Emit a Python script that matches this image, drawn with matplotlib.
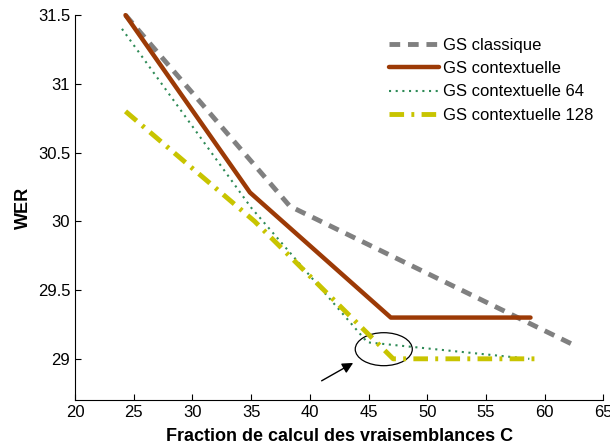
import numpy as np
import matplotlib.pyplot as plt
from matplotlib.patches import Ellipse

plt.rcParams['font.family'] = ['Liberation Sans', 'DejaVu Sans']

# data
x_classique = [24.3, 38.3, 62.5]
y_classique = [31.5, 30.11, 29.1]

x_ctx = [24.3, 34.9, 46.9, 58.8]
y_ctx = [31.5, 30.21, 29.3, 29.3]

x_ctx64 = [24.0, 35.0, 44.9, 58.7]
y_ctx64 = [31.4, 30.1, 29.12, 29.0]

x_ctx128 = [24.3, 35.3, 47.1, 59.2]
y_ctx128 = [30.8, 30.0, 29.0, 29.0]

xticks = [20, 25, 30, 35, 40, 45, 50, 55, 60, 65]
yticks = [29, 29.5, 30, 30.5, 31, 31.5]

fig = plt.figure(figsize=(6.1, 4.45), dpi=100)
ax = fig.add_axes([0.123, 0.101, 0.866, 0.865])

ax.plot(x_classique, y_classique, color='#808080', lw=3.5, ls=(0, (2.2, 1.6)),
        label='GS classique', clip_on=False)
ax.plot(x_ctx, y_ctx, color='#9C3A06', lw=3.2, solid_capstyle='round',
        label='GS contextuelle', clip_on=False)
ax.plot(x_ctx64, y_ctx64, color='#2E8B57', lw=1.5, ls=(0, (1, 2.2)),
        label='GS contextuelle 64', clip_on=False)
ax.plot(x_ctx128, y_ctx128, color='#C8C400', lw=3.5, ls=(0, (3, 1.5, 0.6, 1.5)),
        label='GS contextuelle 128', clip_on=False)

ax.add_patch(Ellipse((46.3, 29.07), 4.86, 0.24, fill=False, color='black', lw=0.9))
ax.annotate('', xy=(43.9, 28.98), xytext=(40.8, 28.83),
            arrowprops=dict(arrowstyle='-|>', color='black', lw=1.0, mutation_scale=16))

ax.set_xlim(20, 65)
ax.set_ylim(28.7, 31.5)
ax.set_xticks(xticks)
ax.set_yticks(yticks)
ax.set_yticklabels(['29', '29.5', '30', '30.5', '31', '31.5'])
ax.tick_params(direction='in', length=4, labelsize=12, width=0.8)
ax.spines['top'].set_visible(False)
ax.spines['right'].set_visible(False)

ax.set_xlabel('Fraction de calcul des vraisemblances C', fontsize=13, fontweight='bold', labelpad=6)
ax.set_ylabel('WER', fontsize=13, fontweight='bold', labelpad=4)

ax.legend(loc='upper right', bbox_to_anchor=(1.009, 0.98), frameon=False, fontsize=12,
          handlelength=3.0, labelspacing=0.5, handletextpad=0.25)

fig.savefig('out.png', dpi=100)
